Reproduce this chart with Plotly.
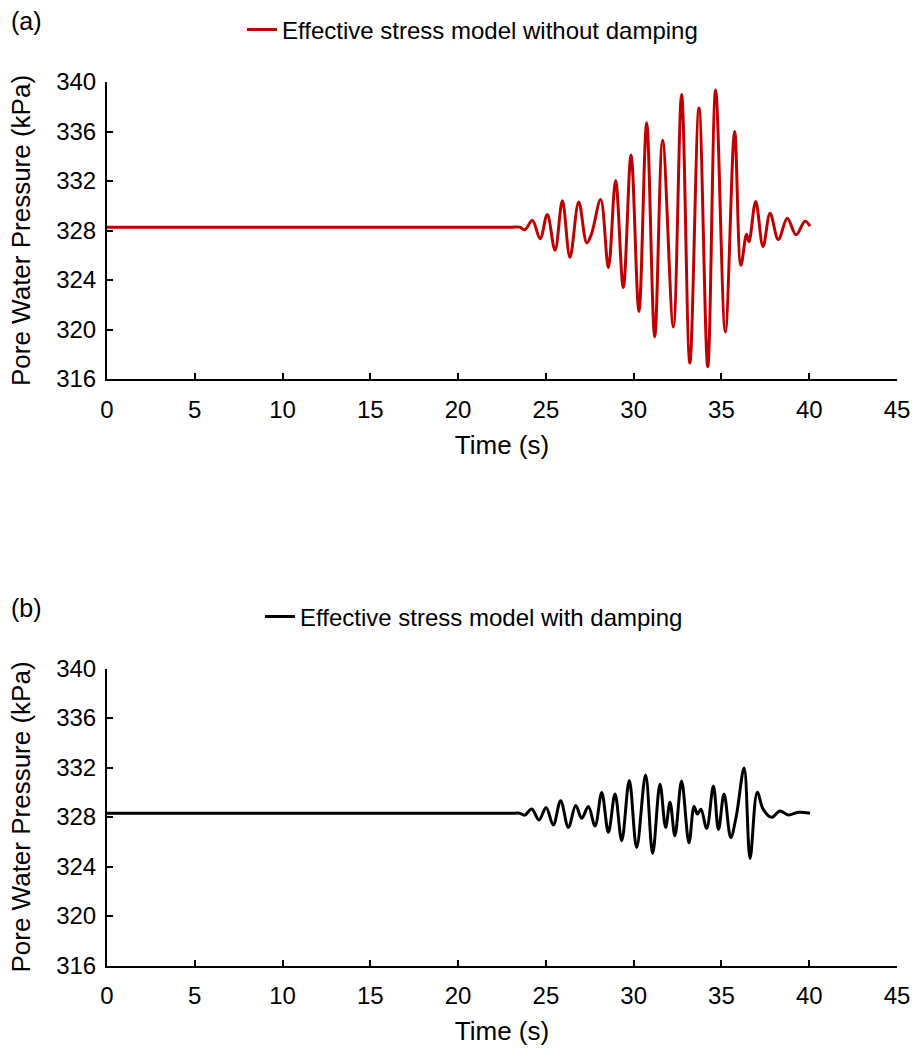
import plotly.graph_objects as go

# Pore water pressure time histories (time in s, pressure in kPa)
time_no_damping = [0, 23.0, 23.5, 23.8, 24.23, 24.67, 25.08, 25.52, 25.94, 26.37, 26.87,
                   27.33, 27.6, 28.12, 28.56, 28.97, 29.41, 29.85, 30.3, 30.74, 31.2,
                   31.65, 32.26, 32.73, 33.2, 33.72, 34.22, 34.67, 35.22, 35.75, 36.11,
                   36.43, 36.57, 36.95, 37.37, 37.77, 38.24, 38.75, 39.25, 39.76, 40.05]
pwp_no_damping = [328.27, 328.27, 328.27, 328.06, 328.8, 327.33, 329.3, 326.4, 330.4, 325.84, 330.3,
                  327.0, 327.73, 330.5, 325.0, 332.05, 323.4, 334.1, 321.46, 336.7, 319.4,
                  335.3, 320.2, 339.0, 317.3, 337.9, 317.0, 339.35, 319.8, 336.0, 325.2,
                  327.7, 327.1, 330.35, 326.7, 329.4, 327.27, 329.0, 327.65, 328.75, 328.35]

time_damping = [0, 23.0, 23.5, 23.8, 24.19, 24.61, 25.01, 25.42, 25.84, 26.28, 26.7,
                27.04, 27.42, 27.8, 28.18, 28.56, 28.94, 29.32, 29.75, 30.17, 30.68,
                31.08, 31.5, 31.82, 32.07, 32.35, 32.73, 33.15, 33.44, 33.63, 33.83,
                34.16, 34.54, 34.83, 35.15, 35.53, 35.85, 36.29, 36.63, 37.04, 37.38,
                37.86, 38.33, 38.81, 39.38, 40.05]
pwp_damping = [328.3, 328.3, 328.3, 328.15, 328.65, 327.76, 328.76, 327.35, 329.32, 327.16, 328.92,
               327.9, 328.84, 327.27, 329.97, 326.76, 329.86, 326.08, 330.94, 325.54, 331.4,
               325.05, 330.65, 327.16, 329.19, 326.49, 330.9, 325.92, 328.84, 328.24, 328.62,
               327.08, 330.5, 327.0, 329.86, 326.35, 328.1, 331.95, 324.65, 330.0, 328.62,
               327.97, 328.49, 328.16, 328.38, 328.3]

x_ticks = [0, 5, 10, 15, 20, 25, 30, 35, 40, 45]
y_ticks = [316, 320, 324, 328, 332, 336, 340]

FONT = "Liberation Sans, Arial, sans-serif"
W, H = 916, 1049
L, R = 107, 19


def px_x(p):
    return (p - L) / (W - L - R)


def px_y(p):
    return 1 - p / H


fig = go.Figure()
fig.add_trace(go.Scatter(
    x=time_no_damping, y=pwp_no_damping, mode="lines",
    line=dict(color="#C00000", width=3, shape="spline", smoothing=1.0),
    name="Effective stress model without damping",
    xaxis="x", yaxis="y", legend="legend", showlegend=True))
fig.add_trace(go.Scatter(
    x=time_damping, y=pwp_damping, mode="lines",
    line=dict(color="#000000", width=3, shape="spline", smoothing=1.0),
    name="Effective stress model with damping",
    xaxis="x2", yaxis="y2", legend="legend2", showlegend=True))

xaxis_common = dict(
    range=[0, 45], tickvals=x_ticks, showline=True, linecolor="black", linewidth=2,
    ticks="inside", ticklen=6, tickwidth=2, tickcolor="black", showgrid=False,
    zeroline=False, tickfont=dict(family=FONT, size=24, color="black"),
    ticklabelstandoff=8,
    title=dict(text="Time (s)", font=dict(family=FONT, size=26, color="black"), standoff=14),
    fixedrange=True)
yaxis_common = dict(
    range=[316, 340], tickvals=y_ticks, showline=True, linecolor="black", linewidth=2,
    ticks="inside", ticklen=6, tickwidth=2, tickcolor="black", showgrid=False,
    zeroline=False, tickfont=dict(family=FONT, size=24, color="black"),
    ticklabelstandoff=4,
    title=dict(text="Pore Water Pressure (kPa)", font=dict(family=FONT, size=26, color="black"),
               standoff=18),
    fixedrange=True)

legend_common = dict(xanchor="left", xref="paper", yanchor="middle", yref="paper",
                     font=dict(family=FONT, size=24, color="black"),
                     bgcolor="rgba(0,0,0,0)", borderwidth=0, visible=True)

fig.update_layout(
    width=W, height=H, showlegend=True,
    margin=dict(l=L, r=R, t=0, b=0, autoexpand=False),
    paper_bgcolor="white", plot_bgcolor="white",
    xaxis=dict(xaxis_common, domain=[0, 1], anchor="y"),
    yaxis=dict(yaxis_common, domain=[px_y(379), px_y(82)], anchor="x"),
    xaxis2=dict(xaxis_common, domain=[0, 1], anchor="y2"),
    yaxis2=dict(yaxis_common, domain=[px_y(965.5), px_y(668.5)], anchor="x2"),
    legend=dict(legend_common, x=px_x(242), y=px_y(30)),
    legend2=dict(legend_common, x=px_x(260), y=px_y(617)),
    annotations=[
        dict(text="(a)", x=px_x(9), y=px_y(21), xref="paper", yref="paper",
             xanchor="left", yanchor="middle", showarrow=False,
             font=dict(family=FONT, size=25, color="black")),
        dict(text="(b)", x=px_x(9), y=px_y(608), xref="paper", yref="paper",
             xanchor="left", yanchor="middle", showarrow=False,
             font=dict(family=FONT, size=25, color="black")),
    ],
)

fig.write_html("out.html")
